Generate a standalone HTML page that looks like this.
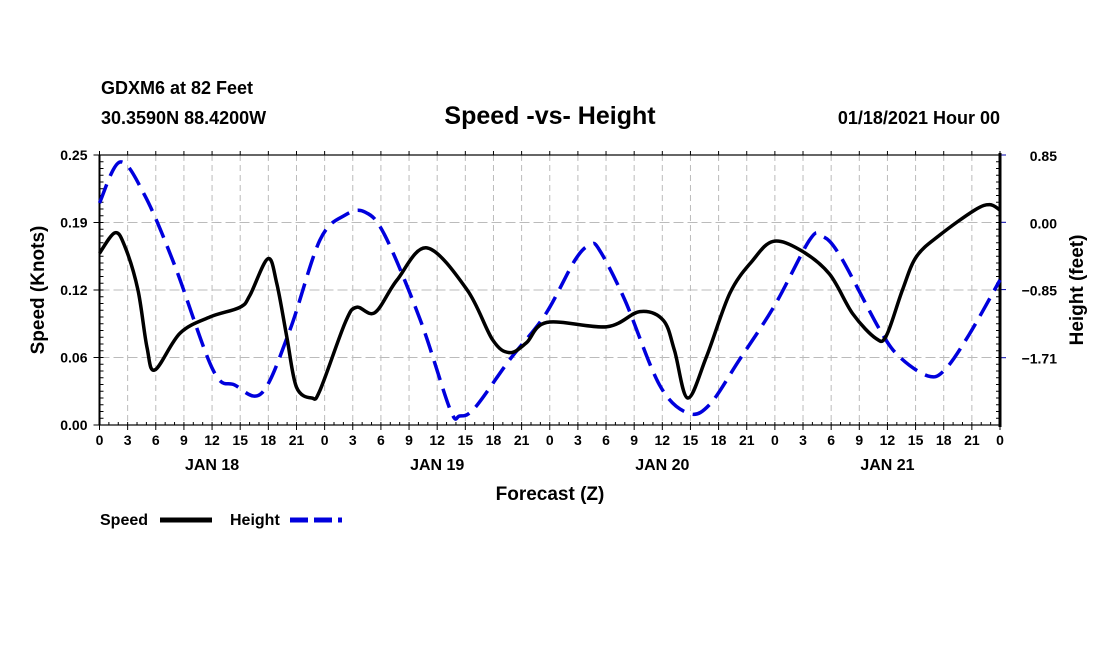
<!DOCTYPE html>
<html><head><meta charset="utf-8"><style>
body{margin:0;background:#fff;width:1100px;height:650px;overflow:hidden}
text{font-family:"Liberation Sans",Arial,sans-serif;font-weight:bold;fill:#000}
</style></head><body>
<svg id="chart" width="1100" height="650" xmlns="http://www.w3.org/2000/svg">
<text x="101" y="94" font-size="18">GDXM6 at 82 Feet</text>
<text x="101" y="124" font-size="18">30.3590N 88.4200W</text>
<text x="550" y="124" font-size="25" text-anchor="middle">Speed -vs- Height</text>
<text x="1000" y="124" font-size="18" text-anchor="end">01/18/2021 Hour 00</text>
<g id="grid"></g>
<g id="axes"></g>
<g id="series"></g>
<text transform="translate(44,290) rotate(-90)" font-size="19" text-anchor="middle">Speed (Knots)</text>
<text transform="translate(1083,290) rotate(-90)" font-size="19" text-anchor="middle">Height (feet)</text>
<text x="550" y="500" font-size="19" text-anchor="middle">Forecast (Z)</text>
<g>
<text x="100" y="525" font-size="16">Speed</text>
<line x1="160" y1="520" x2="212" y2="520" stroke="#000" stroke-width="5"/>
<text x="230" y="525" font-size="16">Height</text>
<line x1="290" y1="520" x2="342" y2="520" stroke="#0000dd" stroke-width="5" stroke-dasharray="18,6"/>
</g>
</svg>
<script>
const speedHours=[0,1.65,2.72,4.1,5.06,5.91,8.58,11.77,14.97,16.03,17.95,18.9,19.98,21.0,22.64,23.5,26.2,27.4,29.35,31.7,34.9,39.2,41.9,43.7,45.5,47.7,54.1,57.6,60.1,61.3,62.7,64.7,67.2,69.6,71.8,74.7,77.8,80.3,82.8,83.9,85.6,87.1,89.6,93.3,94.9,96];
const speedValues=[0.159,0.178,0.165,0.125,0.072,0.051,0.085,0.100,0.109,0.120,0.154,0.131,0.081,0.035,0.025,0.032,0.095,0.109,0.104,0.134,0.164,0.125,0.079,0.067,0.076,0.095,0.091,0.105,0.097,0.069,0.025,0.063,0.122,0.152,0.170,0.162,0.140,0.103,0.080,0.083,0.125,0.156,0.176,0.199,0.204,0.199];
const heightHours=[0,2.2,4.8,8,12.1,14.4,17.3,20.3,23.5,26.2,28.3,30.4,34.2,37.4,38.4,40,43.7,47.5,50.7,52.3,53.3,56,59.7,62.7,65,68.2,72,75.7,77,78.9,83.2,85.3,88.3,90.1,92.7,96];
const heightValues=[0.244,0.762,0.345,-0.539,-1.865,-2.054,-2.156,-1.36,-0.224,0.092,0.13,-0.16,-1.234,-2.37,-2.446,-2.345,-1.74,-1.17,-0.476,-0.287,-0.35,-0.98,-2.054,-2.408,-2.307,-1.74,-1.045,-0.224,-0.173,-0.413,-1.36,-1.70,-1.94,-1.865,-1.42,-0.729];
const speedTicks=[0,0.0625,0.125,0.1875,0.25];
const speedTickLabels=["0.00","0.06","0.12","0.19","0.25"];
const heightTicks=[0.85,0,-0.85,-1.71];
const heightTickLabels=["0.85","0.00","\u22120.85","\u22121.71"];
const dayLabels=["JAN 18","JAN 19","JAN 20","JAN 21"];

const L=99.5,R=1000,T=155,B=425;
const xS=h=>L+(h/96)*(R-L);
const yS=v=>B-(v/0.25)*(B-T);
const yH=v=>T+((0.85-v)/3.41)*(B-T);
const NS="http://www.w3.org/2000/svg";
function mk(tag,attrs,parent){const e=document.createElementNS(NS,tag);for(const k in attrs)e.setAttribute(k,attrs[k]);parent.appendChild(e);return e;}
const grid=document.getElementById('grid'),axes=document.getElementById('axes'),series=document.getElementById('series');
for(let h=3;h<96;h+=3){const l=mk('line',{x1:xS(h),x2:xS(h),y1:T,y2:B,stroke:'#bbb','stroke-dasharray':'6,4'},grid);

}
speedTicks.forEach((v,i)=>{if(i>0&&i<4){const l=mk('line',{x1:L,x2:R,y1:yS(v),y2:yS(v),stroke:'#bbb','stroke-dasharray':'10,4'},grid);

}
const t=mk('text',{x:L-12,y:yS(v)+5,'font-size':14,'text-anchor':'end'},axes);t.textContent=speedTickLabels[i];


mk('line',{x1:L-6,x2:L,y1:yS(v),y2:yS(v),stroke:'#000'},axes);});
for(let k=0;k<=40;k++){const y=B-k*(B-T)/40;mk('line',{x1:L,x2:L+4,y1:y,y2:y,stroke:'#000'},axes);mk('line',{x1:R,x2:R-4,y1:y,y2:y,stroke:'#000'},axes);}
heightTicks.forEach((v,i)=>{mk('line',{x1:R,x2:R+6,y1:yH(v),y2:yH(v),stroke:'#0000aa'},axes);
const t=mk('text',{x:1057,y:yH(v)+6,'font-size':14,'text-anchor':'end'},axes);t.textContent=heightTickLabels[i];

});
for(let h=0;h<=96;h+=3){mk('line',{x1:xS(h),x2:xS(h),y1:B,y2:B+5,stroke:'#000'},axes);mk('line',{x1:xS(h),x2:xS(h),y1:T,y2:T-4,stroke:'#000'},axes);
const t=mk('text',{x:xS(h),y:B+20,'font-size':14,'text-anchor':'middle'},axes);t.textContent=String(h%24);

}
for(let h=1;h<96;h++)mk('line',{x1:xS(h),x2:xS(h),y1:B,y2:B-3,stroke:'#000'},axes);
dayLabels.forEach((d,i)=>{const t=mk('text',{x:xS(12+24*i),y:B+45,'font-size':16,'text-anchor':'middle'},axes);t.textContent=d;

});
const fr=mk('rect',{x:L,y:T,width:R-L,height:B-T,fill:'none',stroke:'#000','stroke-width':1.2},axes);


mk('line',{x1:L,x2:L,y1:T,y2:B,stroke:'#000','stroke-width':2},axes);
mk('line',{x1:R,x2:R,y1:T-2,y2:B+2,stroke:'#000','stroke-width':3},axes);
function path(xs,ys){const p=xs.map((x,i)=>[x,ys[i]]);let d='M'+p[0][0]+','+p[0][1];
for(let i=0;i<p.length-1;i++){const p0=p[Math.max(0,i-1)],p1=p[i],p2=p[i+1],p3=p[Math.min(p.length-1,i+2)];
d+=' C'+(p1[0]+(p2[0]-p0[0])/6)+','+(p1[1]+(p2[1]-p0[1])/6)+' '+(p2[0]-(p3[0]-p1[0])/6)+','+(p2[1]-(p3[1]-p1[1])/6)+' '+p2[0]+','+p2[1];}return d;}
const hp=mk('path',{d:path(heightHours.map(xS),heightValues.map(yH)),fill:'none',stroke:'#0000dd','stroke-width':3.5,'stroke-dasharray':'20,9'},series);


const sp=mk('path',{d:path(speedHours.map(xS),speedValues.map(yS)),fill:'none',stroke:'#000','stroke-width':3.5},series);


</script>
</body></html>
